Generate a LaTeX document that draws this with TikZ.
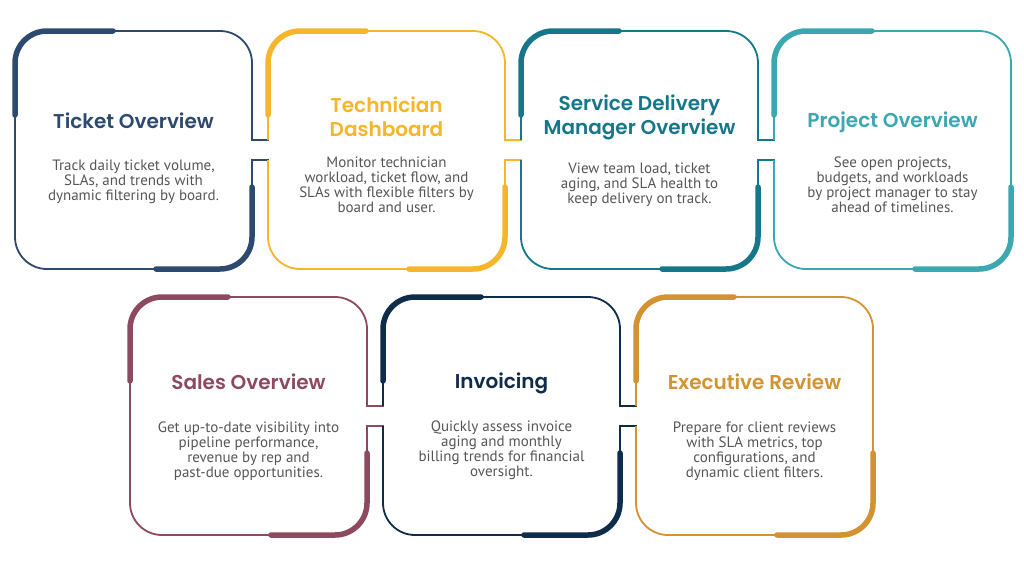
\documentclass[tikz,border=0pt]{standalone}
\usepackage{fontspec}
\setmainfont{PT Sans}
\newfontfamily\titlefont{Poppins SemiBold}
\definecolor{cA}{HTML}{2D4A6E}
\definecolor{cB}{HTML}{F7B52C}
\definecolor{cC}{HTML}{17778A}
\definecolor{cD}{HTML}{3AA7B1}
\definecolor{cE}{HTML}{8D4A5F}
\definecolor{cF}{HTML}{0F2C4A}
\definecolor{cG}{HTML}{D39330}
\definecolor{bodygray}{HTML}{555658}
\tikzset{
  outline/.style={line width=1.8pt},
  accent/.style={line width=5.5pt, line cap=round},
  cardtitle/.style={font=\titlefont\fontsize{20}{24}\selectfont, align=center, inner sep=0pt},
  cardbody/.style={font=\fontsize{15}{15}\selectfont, text=bodygray, align=center, inner sep=0pt},
}
% #1 left, #2 top, #3 colour, #4 gap on left (1/0), #5 notch on right (1/0), #6 next left
\newcommand\cardframe[6]{%
  \pgfmathsetmacro\cL{#1}%
  \pgfmathsetmacro\cR{#1+237}%
  \pgfmathsetmacro\cT{#2}%
  \pgfmathsetmacro\cB{#2+238}%
  \pgfmathsetmacro\gA{#2+109}%
  \pgfmathsetmacro\gB{#2+129}%
  \pgfmathsetmacro\cN{#6+0.9}%
  \begin{scope}[draw=#3]
    \draw[outline, rounded corners=32pt] (\cL,\gB) -- (\cL,\cB) -- (\cR,\cB) -- (\cR,\gB);
    \draw[outline, rounded corners=32pt] (\cR,\gA) -- (\cR,\cT) -- (\cL,\cT) -- (\cL,\gA);
    \ifnum#4=0 \draw[outline] (\cL,\gA) -- (\cL,\gB); \fi
    \ifnum#5=0 \draw[outline] (\cR,\gA) -- (\cR,\gB); \fi
    \ifnum#5=1
      \draw[outline] (\cR,\gB+4) -- (\cR,\gB) -- (\cN,\gB);
      \draw[outline] (\cR,\gA-4) -- (\cR,\gA) -- (\cN,\gA);
    \fi
    \draw[accent, rounded corners=32pt] (\cL,\cT+84) -- (\cL,\cT) -- (\cL+98,\cT);
    \draw[accent, rounded corners=32pt] (\cR,\cB-82) -- (\cR,\cB) -- (\cR-96,\cB);
  \end{scope}}
\begin{document}
\begin{tikzpicture}[x=1pt,y=-1pt]
\fill[white] (0,0) rectangle (1024,563);
\useasboundingbox (0,0) rectangle (1024,563);

\cardframe{15}{31}{cA}{0}{1}{268}
\cardframe{268}{31}{cB}{1}{1}{521}
\cardframe{521}{31}{cC}{1}{1}{774}
\cardframe{774}{31}{cD}{1}{0}{0}
\cardframe{130}{297}{cE}{0}{1}{383}
\cardframe{383}{297}{cF}{1}{1}{636}
\cardframe{636}{297}{cG}{1}{0}{0}

\node[cardtitle, text=cA] (t1) at (133.5,121) {Ticket Overview};
\node[cardbody] (b1) at (133.5,182) {Track daily ticket volume,\\SLAs, and trends with\\dynamic filtering by board.};

\node[cardtitle, text=cB] (t2) at (386.5,117) {Technician\\Dashboard};
\node[cardbody] (b2) at (386.5,185) {Monitor technician\\workload, ticket flow, and\\SLAs with flexible filters by\\board and user.};

\node[cardtitle, text=cC] (t3) at (639.5,117) {Service Delivery\\Manager Overview};
\node[cardbody] (b3) at (639.5,185) {View team load, ticket\\aging, and SLA health to\\keep delivery on track.};

\node[cardtitle, text=cD] (t4) at (892.5,122) {Project Overview};
\node[cardbody] (b4) at (892.5,185) {See open projects,\\budgets, and workloads\\by project manager to stay\\ahead of timelines.};

\node[cardtitle, text=cE] (t5) at (248.5,382) {Sales Overview};
\node[cardbody] (b5) at (248.5,451.5) {Get up-to-date visibility into\\pipeline performance,\\revenue by rep and\\past-due opportunities.};

\node[cardtitle, text=cF] (t6) at (501.5,383) {Invoicing};
\node[cardbody] (b6) at (501.5,450) {Quickly assess invoice\\aging and monthly\\billing trends for financial\\oversight.};

\node[cardtitle, text=cG] (t7) at (754.5,382) {Executive Review};
\node[cardbody] (b7) at (754.5,451) {Prepare for client reviews\\with SLA metrics, top\\configurations, and\\dynamic client filters.};
\end{tikzpicture}
\end{document}
